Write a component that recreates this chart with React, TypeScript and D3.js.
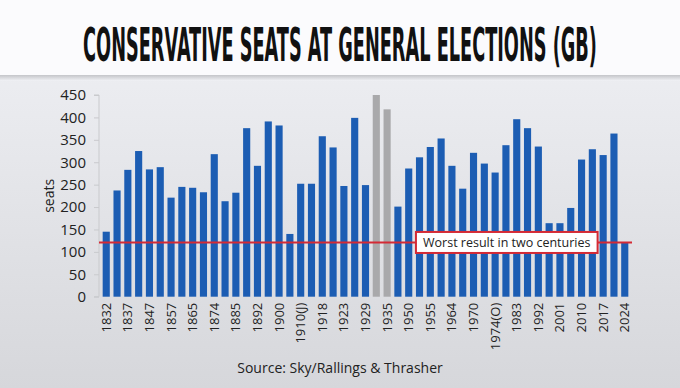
import { useEffect, useRef } from 'react';
import * as d3 from 'd3';

// Election years (49 general elections, 1832–2024)
const years = [
  '1832', '1835', '1837', '1841', '1847', '1852', '1857', '1859', '1865', '1868',
  '1874', '1880', '1885', '1886', '1892', '1895', '1900', '1906', '1910(J)', '1910(D)',
  '1918', '1922', '1923', '1924', '1929', '1931', '1935', '1945', '1950', '1951',
  '1955', '1959', '1964', '1966', '1970', '1974(F)', '1974(O)', '1979', '1983', '1987',
  '1992', '1997', '2001', '2005', '2010', '2015', '2017', '2019', '2024',
];
const seats = [
  145, 237, 283, 325, 284, 289, 221, 245, 243, 233,
  318, 213, 232, 376, 292, 391, 382, 140, 252, 252,
  358, 333, 247, 399, 249, 450, 418, 201, 286, 311,
  334, 353, 292, 241, 321, 297, 277, 338, 396, 376,
  335, 164, 164, 198, 306, 329, 316, 364, 120,
];
// National Government years drawn in grey
const greyYears = ['1931', '1935'];
const yTicks = [0, 50, 100, 150, 200, 250, 300, 350, 400, 450];
const worstValue = 121;
const worstLabel = 'Worst result in two centuries';

const W = 680, H = 388;
const FONT = '"Open Sans", "Noto Sans", sans-serif';

export default function App() {
  const svgRef = useRef<SVGSVGElement>(null);

  useEffect(() => {
    const svg = d3.select(svgRef.current);
    svg.selectAll('*').remove();

    const margin = { top: 95, left: 99, right: 48, bottom: 92 };
    const innerBottom = H - margin.bottom + 0.7;

    // Background
    const defs = svg.append('defs');
    const bg = defs.append('linearGradient').attr('id', 'bg').attr('x1', 0).attr('x2', 0).attr('y1', 0).attr('y2', 1);
    bg.append('stop').attr('offset', '0%').attr('stop-color', '#f1f2f6');
    bg.append('stop').attr('offset', '100%').attr('stop-color', '#d6d7db');
    const sh = defs.append('linearGradient').attr('id', 'sh').attr('x1', 0).attr('x2', 0).attr('y1', 0).attr('y2', 1);
    sh.append('stop').attr('offset', '0%').attr('stop-color', '#c4c5c9');
    sh.append('stop').attr('offset', '100%').attr('stop-color', '#f1f2f6');

    svg.append('rect').attr('width', W).attr('height', H).attr('fill', 'url(#bg)');
    svg.append('rect').attr('y', 75).attr('width', W).attr('height', 6).attr('fill', 'url(#sh)');
    svg.append('rect').attr('width', W).attr('height', 75).attr('fill', '#fbfbfd');

    // Title: narrow font sized to the reference width, stretched vertically
    const title = svg.append('text')
      .attr('text-anchor', 'middle')
      .attr('font-family', '"Liberation Sans Narrow", "DejaVu Sans Condensed", sans-serif')
      .attr('font-weight', 700).attr('font-size', 30)
      .attr('fill', '#111')
      .text('CONSERVATIVE SEATS AT GENERAL ELECTIONS (GB)');
    const natural = (title.node() as SVGTextElement).getComputedTextLength() || 514;
    const fs = 30 * 514 / natural;
    const sy = 33 / (fs * 0.72);
    title.attr('font-size', fs).attr('transform', `translate(${W / 2},61) scale(1,${sy})`);

    const x = d3.scaleBand<string>().domain(years).range([margin.left, W - margin.right]).padding(0.34);
    const y = d3.scaleLinear().domain([0, 450]).range([innerBottom, margin.top]);

    // Y axis
    const yAxis = svg.append('g').attr('transform', `translate(${margin.left},0)`)
      .call(d3.axisLeft(y).tickValues(yTicks).tickSize(5).tickPadding(8));
    yAxis.select('.domain').attr('stroke', '#c9cacd').attr('d', `M-5,${y(450)}H0V${y(0)}H-5`);
    yAxis.selectAll('.tick line').attr('stroke', '#c9cacd');
    yAxis.selectAll('.tick text').attr('font-family', FONT).attr('font-size', 15).attr('fill', '#222');

    svg.append('text')
      .attr('transform', `translate(54,${(y(0) + y(450)) / 2}) rotate(-90)`)
      .attr('text-anchor', 'middle')
      .attr('font-family', FONT).attr('font-size', 14).attr('fill', '#222')
      .text('seats');

    // Bars
    svg.append('g').selectAll('rect').data(years).join('rect')
      .attr('x', (d) => x(d)!)
      .attr('width', x.bandwidth())
      .attr('y', (_, i) => y(seats[i]))
      .attr('height', (_, i) => y(0) - y(seats[i]))
      .attr('fill', (d) => (greyYears.includes(d) ? '#a9a9ab' : '#1c5db3'));

    // X labels (every other election)
    svg.append('g').selectAll('text').data(years.filter((_, i) => i % 2 === 0)).join('text')
      .attr('transform', (d) => `translate(${x(d)! + x.bandwidth() / 2 + 4.5},${y(0) + 6}) rotate(-90)`)
      .attr('text-anchor', 'end')
      .attr('font-family', FONT).attr('font-size', 13).attr('fill', '#222')
      .text((d) => d);

    // Worst-result line and label
    const lineY = y(worstValue);
    svg.append('line')
      .attr('x1', margin.left).attr('x2', W - margin.right)
      .attr('y1', lineY).attr('y2', lineY)
      .attr('stroke', '#d42a35').attr('stroke-width', 2);

    const boxX0 = x('1951')!, boxX1 = x('2017')! - 2;
    svg.append('rect')
      .attr('x', boxX0).attr('y', lineY - 10.5)
      .attr('width', boxX1 - boxX0).attr('height', 21)
      .attr('fill', '#fff').attr('stroke', '#d42a35').attr('stroke-width', 2);
    svg.append('text')
      .attr('x', (boxX0 + boxX1) / 2).attr('y', lineY + 4.5)
      .attr('text-anchor', 'middle')
      .attr('font-family', FONT).attr('font-size', 12.5).attr('fill', '#222')
      .text(worstLabel);

    // Source
    svg.append('text')
      .attr('x', 340).attr('y', 373)
      .attr('text-anchor', 'middle')
      .attr('font-family', FONT).attr('font-size', 14).attr('fill', '#222')
      .text('Source: Sky/Rallings & Thrasher');
  }, []);

  return (
    <div style={{ position: 'fixed', left: 0, top: 0 }}>
      <svg ref={svgRef} width={W} height={H} style={{ display: 'block' }} />
    </div>
  );
}
